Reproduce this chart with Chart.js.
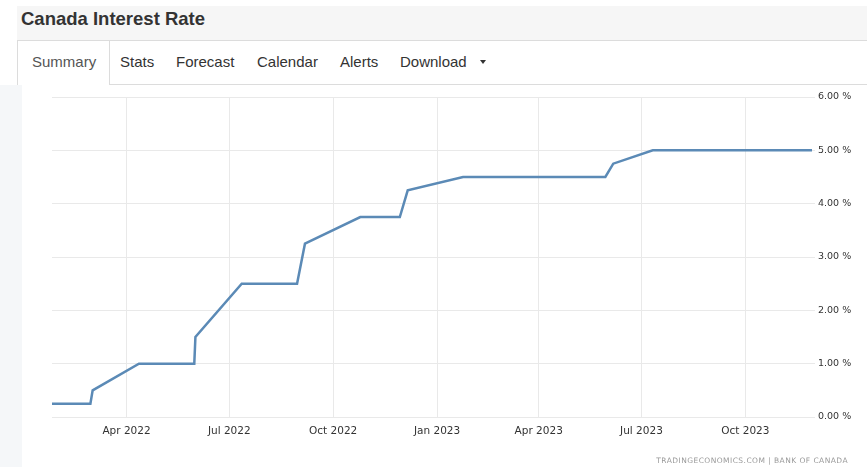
<!DOCTYPE html>
<html>
<head>
<meta charset="utf-8">
<script src="https://cdn.jsdelivr.net/npm/chart.js@4.4.1/dist/chart.umd.min.js"></script>
<style>
body { margin: 0; width: 867px; height: 467px; background: #fff; position: relative; overflow: hidden; font-family: "Liberation Sans", Arial, sans-serif; }
.band { position: absolute; left: 17px; top: 6px; width: 850px; height: 34px; background: #f6f6f6; border-bottom: 1px solid #dcdcdc; }
.title { position: absolute; left: 21px; top: 8px; font-size: 18.5px; font-weight: bold; color: #333; }
.strip { position: absolute; left: 0; top: 85px; width: 22px; height: 382px; background: #f5f7f9; }
.tabline { position: absolute; left: 109px; top: 84px; width: 758px; height: 1px; background: #dcdcdc; }
.tab-l { position: absolute; left: 17px; top: 41px; width: 1px; height: 44px; background: #dcdcdc; }
.tab-r { position: absolute; left: 109px; top: 41px; width: 1px; height: 44px; background: #dcdcdc; }
.tab { position: absolute; top: 53px; font-size: 15px; color: #333; white-space: nowrap; }
.tab.active { color: #555; }
.caret { position: absolute; left: 480px; top: 60px; width: 0; height: 0; border-left: 3px solid transparent; border-right: 3px solid transparent; border-top: 4px solid #333; }
.src { position: absolute; right: 19px; top: 456px; font-family: "DejaVu Sans", sans-serif; font-size: 7.5px; color: #9a9a9a; letter-spacing: 0.45px; }
#wrap { position: absolute; left: 22px; top: 86px; width: 845px; height: 381px; }
</style>
</head>
<body>
<div class="band"></div>
<div class="title">Canada Interest Rate</div>
<div class="strip"></div>
<div class="tab-l"></div>
<div class="tab-r"></div>
<div class="tabline"></div>
<span class="tab active" style="left:32px">Summary</span>
<span class="tab" style="left:120px">Stats</span>
<span class="tab" style="left:176px">Forecast</span>
<span class="tab" style="left:257px">Calendar</span>
<span class="tab" style="left:340px">Alerts</span>
<span class="tab" style="left:400px">Download</span>
<div class="caret"></div>
<div id="wrap"><canvas id="rateChart"></canvas></div>
<div class="src">TRADINGECONOMICS.COM | BANK OF CANADA</div>
<script>
// Bank of Canada policy rate as drawn in the picture
const rateDates = ["2022-01-25","2022-02-28","2022-03-02","2022-04-12","2022-05-31","2022-06-01",
  "2022-07-12","2022-08-30","2022-09-06","2022-10-25","2022-11-29","2022-12-06",
  "2023-01-24","2023-05-30","2023-06-06","2023-07-11","2023-11-29"];
const rateValues = [0.25,0.25,0.5,1.0,1.0,1.5,2.5,2.5,3.25,3.75,3.75,4.25,4.5,4.5,4.75,5.0,5.0];

const tickDates = ["2022-04-01","2022-07-01","2022-10-01","2023-01-01","2023-04-01","2023-07-01","2023-10-01"];
const tickLabels = ["Apr 2022","Jul 2022","Oct 2022","Jan 2023","Apr 2023","Jul 2023","Oct 2023"];
const xStart = "2022-01-25";
const xEnd = "2023-11-29";

const points = rateDates.map((d, i) => ({ x: Date.parse(d), y: rateValues[i] }));

new Chart(document.getElementById("rateChart"), {
  type: "line",
  data: {
    datasets: [{
      data: points,
      borderColor: "#5b8ab6",
      borderWidth: 2.5,
      pointRadius: 0,
      tension: 0,
      fill: false
    }]
  },
  options: {
    responsive: true,
    maintainAspectRatio: false,
    animation: false,
    layout: { padding: { left: 30, top: 11, right: 0, bottom: 0 } },
    plugins: { legend: { display: false }, tooltip: { enabled: false } },
    scales: {
      x: {
        type: "linear",
        min: Date.parse(xStart),
        max: Date.parse(xEnd),
        afterBuildTicks: s => { s.ticks = tickDates.map(d => ({ value: Date.parse(d) })); },
        afterFit: s => { s.height = 50; },
        grid: { color: "#e9e9e9", drawTicks: false },
        border: { display: false },
        ticks: {
          padding: 8,
          maxRotation: 0,
          autoSkip: false,
          color: "#333",
          font: { family: "DejaVu Sans", size: 10.5 },
          callback: (v, i) => tickLabels[i]
        }
      },
      y: {
        position: "right",
        min: 0,
        max: 6,
        afterFit: s => { s.width = 55; },
        grid: { color: "#e9e9e9", tickLength: 3 },
        border: { display: false },
        ticks: {
          stepSize: 1,
          padding: 3,
          color: "#333",
          font: { family: "DejaVu Sans", size: 9.5 },
          callback: v => v.toFixed(2) + " %"
        }
      }
    }
  }
});
</script>
</body>
</html>
